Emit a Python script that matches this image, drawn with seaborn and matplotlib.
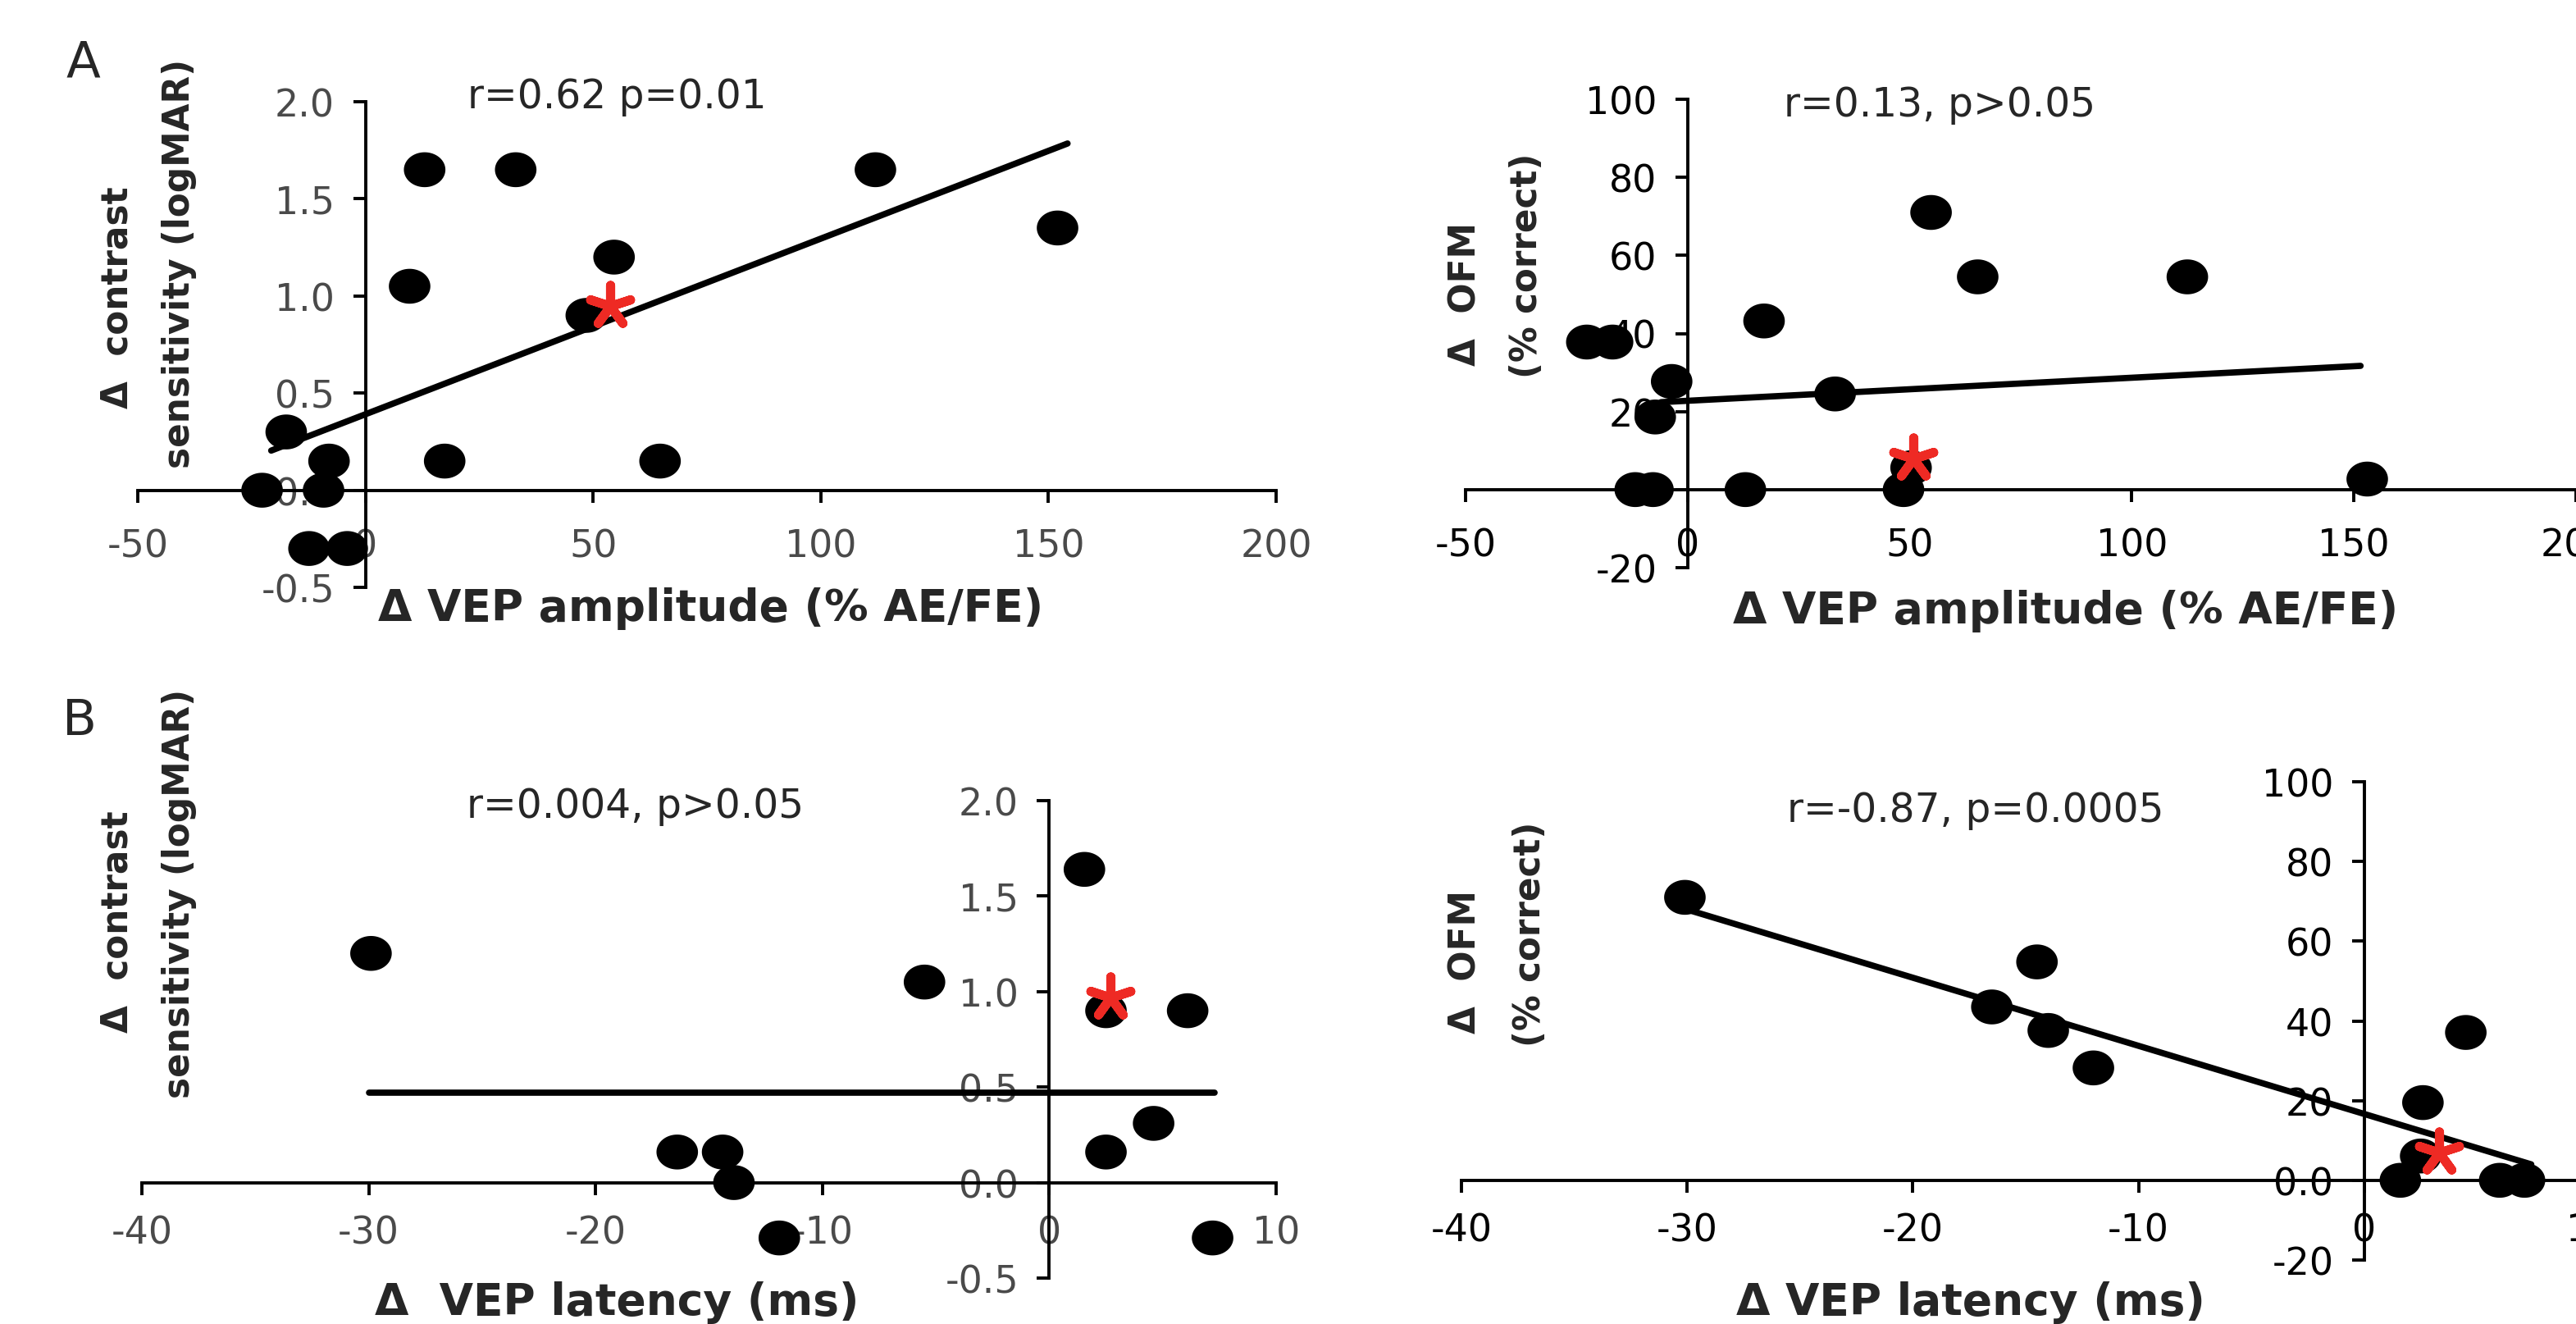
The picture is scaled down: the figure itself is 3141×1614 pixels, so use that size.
import numpy as np
import matplotlib
matplotlib.use('Agg')
import matplotlib.pyplot as plt
import seaborn as sns

# panel A left: contrast sensitivity vs VEP amplitude
amp_a = [13, 33, 112, 152, 54.6, 9.7, 48.5, -17.4, -8, 17.4, 64.7, -22.7, -9.2, -12.4, -4]
cs_a = [1.65, 1.65, 1.65, 1.35, 1.2, 1.05, 0.9, 0.3, 0.15, 0.15, 0.15, 0.0, 0.0, -0.3, -0.3]
fit_amp_cs_x = [-20.7, 154.2]
fit_amp_cs_y = [0.204, 1.785]
star_amp_cs = ([53.7], [0.95])

# panel A right: OFM vs VEP amplitude
amp_b = [54.8, 65.3, 112.5, 17.2, -22.7, -16.9, -3.6, 33.2, -7.3, 50.3, 48.6, 13, -11.8, -7.8, 153]
ofm_a = [71, 54.5, 54.5, 43.2, 37.8, 37.8, 27.7, 24.5, 18.6, 5.6, 0, 0, 0, 0, 2.7]
fit_amp_ofm_x = [-6, 151.5]
fit_amp_ofm_y = [22.4, 31.7]
star_amp_ofm = ([50.8], [8])

# panel B left: contrast sensitivity vs VEP latency
lat_a = [-29.9, -5.5, 1.55, 2.5, 6.1, 4.6, 2.5, -16.4, -14.4, -13.9, -11.9, 7.2]
cs_b = [1.2, 1.05, 1.64, 0.9, 0.9, 0.31, 0.16, 0.16, 0.16, 0.0, -0.29, -0.29]
fit_lat_cs_x = [-30, 7.3]
fit_lat_cs_y = [0.472, 0.472]
star_lat_cs = ([2.7], [0.97])

# panel B right: OFM vs VEP latency
lat_b = [-30.1, -14.5, -16.5, -14, -12, 4.5, 2.6, 2.5, 1.6, 6, 7.1]
ofm_b = [71, 54.8, 43.5, 37.6, 28.2, 37.1, 19.5, 6.1, 0, 0, 0]
fit_lat_ofm_x = [-30.1, 7.4]
fit_lat_ofm_y = [68.1, 4.0]
star_lat_ofm = ([3.3], [7])

amp_ticks = [-50, 0, 50, 100, 150, 200]
lat_ticks = [-40, -30, -20, -10, 0, 10]
cs_ticks = [-0.5, 0, 0.5, 1.0, 1.5, 2.0]
cs_labels = ['-0.5', '0.0', '0.5', '1.0', '1.5', '2.0']
ofm_ticks = [-20, 0, 20, 40, 60, 80, 100]
ofm_labels_a = ['-20', '0', '20', '40', '60', '80', '100']
ofm_labels_b = ['-20', '0.0', '20', '40', '60', '80', '100']

stats = ['r=0.62 p=0.01', 'r=0.13, p>0.05', 'r=0.004, p>0.05', 'r=-0.87, p=0.0005']

sns.set_style('ticks')
plt.rcParams['font.family'] = ['DejaVu Sans']
plt.rcParams['axes.unicode_minus'] = False

W, H = 3141, 1615
fig = plt.figure(figsize=(W / 100, H / 100), dpi=100)

# ellipse marker (dots are slightly wider than tall)
t = np.linspace(0, 2 * np.pi, 80)
dot = np.column_stack([np.cos(t), 0.84 * np.sin(t)])


def px_axes(x0, x1, ytop, ybot):
    return fig.add_axes([x0 / W, 1 - ybot / H, (x1 - x0) / W, (ybot - ytop) / H])


def ftext(x, y, s, **kw):
    fig.text(x / W, 1 - y / H, s, **kw)


def panel(ax, x, y, fx, fy, star, xlim, ylim, xt, yt, ylab, tick_col, xpad):
    sns.lineplot(x=fx, y=fy, color='black', linewidth=5.5, ax=ax, zorder=4)
    sns.scatterplot(x=x, y=y, marker=dot, s=1330, color='black',
                    edgecolor='none', linewidth=0, ax=ax, zorder=3, clip_on=False)
    sns.scatterplot(x=star[0], y=star[1], marker=(5, 2, 0), s=1350,
                    color='#ee2a24', linewidth=8, ax=ax, zorder=5)
    ax.set_xlim(*xlim)
    ax.set_ylim(*ylim)
    ax.set_xticks(xt)
    ax.set_yticks(yt)
    ax.set_yticklabels(ylab)
    for s in ['top', 'right']:
        ax.spines[s].set_visible(False)
    ax.spines['left'].set_position(('data', 0))
    ax.spines['bottom'].set_position(('data', 0))
    for s in ['left', 'bottom']:
        ax.spines[s].set_linewidth(2.8)
        ax.spines[s].set_color('black')
    ax.tick_params(axis='x', direction='out', length=11, width=2.8, pad=xpad,
                   labelsize=33, labelcolor=tick_col, color='black')
    ax.tick_params(axis='y', direction='out', length=11, width=2.8, pad=16,
                   labelsize=33, labelcolor=tick_col, color='black')
    ax.set_xlabel('')
    ax.set_ylabel('')
    ax.set_facecolor('none')


ax1 = px_axes(168, 1556, 125, 717)
panel(ax1, amp_a, cs_a, fit_amp_cs_x, fit_amp_cs_y, star_amp_cs,
      (-50, 200), (-0.5, 2.0), amp_ticks, cs_ticks, cs_labels, '#4a4a4a', 22)

ax2 = px_axes(1787, 3141, 122, 693)
panel(ax2, amp_b, ofm_a, fit_amp_ofm_x, fit_amp_ofm_y, star_amp_ofm,
      (-50, 200), (-20, 100), amp_ticks, ofm_ticks, ofm_labels_a, 'black', 22)

ax3 = px_axes(173, 1556, 977, 1559)
panel(ax3, lat_a, cs_b, fit_lat_cs_x, fit_lat_cs_y, star_lat_cs,
      (-40, 10), (-0.5, 2.0), lat_ticks, cs_ticks, cs_labels, '#4a4a4a', 17)

ax4 = px_axes(1782, 3158, 954, 1537)
panel(ax4, lat_b, ofm_b, fit_lat_ofm_x, fit_lat_ofm_y, star_lat_ofm,
      (-40, 10), (-20, 100), lat_ticks, ofm_ticks, ofm_labels_b, 'black', 17)

# correlation stats
st = dict(fontsize=35, ha='center', va='center')
ftext(752, 118, stats[0], **st)
ftext(2365, 128, stats[1], **st)
ftext(775, 983, stats[2], **st)
ftext(2409, 988, stats[3], **st)

# axis labels
lab = dict(fontsize=31.5, fontweight='bold', rotation=90, ha='center', va='center')
ftext(143, 363, 'Δ  contrast', **lab)
ftext(219, 321, 'sensitivity (logMAR)', **lab)
ftext(1787, 358, 'Δ  OFM', **lab)
ftext(1862, 324, '(% correct)', **lab)
ftext(143, 1124, 'Δ  contrast', **lab)
ftext(219, 1089, 'sensitivity (logMAR)', **lab)
ftext(1787, 1173, 'Δ  OFM', **lab)
ftext(1865, 1139, '(% correct)', **lab)

xl = dict(fontsize=38.5, fontweight='bold', ha='center', va='center')
ftext(867, 742, 'Δ VEP amplitude (% AE/FE)', **xl)
ftext(2519, 745, 'Δ VEP amplitude (% AE/FE)', **xl)
ftext(752, 1588, 'Δ  VEP latency (ms)', **xl)
ftext(2403, 1588, 'Δ VEP latency (ms)', **xl)

# panel letters
ftext(101, 77, 'A', fontsize=44, ha='center', va='center')
ftext(97, 880, 'B', fontsize=44, ha='center', va='center')

fig.savefig('out.png', dpi=100, facecolor='white')
